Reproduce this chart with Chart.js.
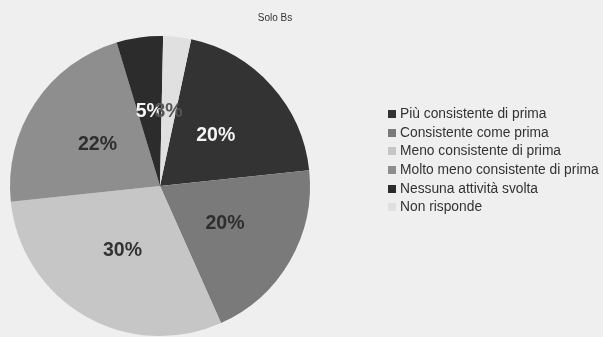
<!DOCTYPE html>
<html>
<head>
<meta charset="utf-8">
<script src="https://cdn.jsdelivr.net/npm/chart.js@4"></script>
<style>
  html, body { margin: 0; padding: 0; background: #efefef; }
  #wrap { position: relative; width: 603px; height: 337px; background: #efefef; overflow: hidden; }
  #chart { position: absolute; left: 0; top: 0; }
  #title {
    position: absolute; left: 235px; width: 80px; top: 12px;
    text-align: center; font: 10px "Liberation Sans", Arial, sans-serif; color: #333;
  }
  #legend {
    position: absolute; left: 388px; top: 105px; margin: 0; padding: 0; list-style: none;
    font: 13.8px "Liberation Sans", Arial, sans-serif; color: #333; white-space: nowrap;
  }
  #legend li { height: 18.7px; line-height: 18.7px; }
  #legend span { display: inline-block; width: 8px; height: 8px; margin-right: 4px; vertical-align: 0px; }
</style>
</head>
<body>
<div id="wrap">
  <canvas id="chart" width="603" height="337"></canvas>
  <div id="title">Solo Bs</div>
  <ul id="legend"></ul>
</div>
<script>
// risposte (percentuali)
const categories = [
  'Più consistente di prima',
  'Consistente come prima',
  'Meno consistente di prima',
  'Molto meno consistente di prima',
  'Nessuna attività svolta',
  'Non risponde'
];
const shares = [20, 20, 30, 22, 5, 3];

const sliceColors = ['#333333', '#7a7a7a', '#c6c6c6', '#8e8e8e', '#2c2c2c', '#e0e0e0'];
const labelColors = ['#f4f4f4', '#2e2e2e', '#333333', '#2e2e2e', '#f4f4f4', '#555555'];

// etichette percentuali dentro le fette
const sliceLabels = {
  id: 'sliceLabels',
  afterDatasetsDraw(chart) {
    const ctx = chart.ctx;
    const meta = chart.getDatasetMeta(0);
    ctx.save();
    ctx.font = 'bold 19.5px "Liberation Sans", Arial, sans-serif';
    ctx.textAlign = 'center';
    ctx.textBaseline = 'middle';
    meta.data.forEach((arc, i) => {
      const p = arc.getProps(['x', 'y', 'startAngle', 'endAngle', 'outerRadius'], true);
      const mid = (p.startAngle + p.endAngle) / 2;
      const r = p.outerRadius * 0.5;
      ctx.fillStyle = labelColors[i];
      ctx.fillText(shares[i] + '%', p.x + Math.cos(mid) * r, p.y + Math.sin(mid) * r);
    });
    ctx.restore();
  }
};

const chart = new Chart(document.getElementById('chart'), {
  type: 'pie',
  data: {
    labels: categories,
    datasets: [{
      data: shares,
      backgroundColor: sliceColors,
      borderWidth: 0,
      hoverOffset: 0,
      offset: 0
    }]
  },
  options: {
    responsive: false,
    animation: false,
    rotation: 12,
    layout: { padding: { left: 10, top: 36, right: 293, bottom: 1 } },
    plugins: {
      legend: { display: false },
      tooltip: { enabled: false }
    }
  },
  plugins: [sliceLabels]
});

// legenda
const legend = document.getElementById('legend');
chart.data.labels.forEach((name, i) => {
  const li = document.createElement('li');
  const box = document.createElement('span');
  box.style.background = chart.data.datasets[0].backgroundColor[i];
  li.appendChild(box);
  li.appendChild(document.createTextNode(name));
  legend.appendChild(li);
});
</script>
</body>
</html>
